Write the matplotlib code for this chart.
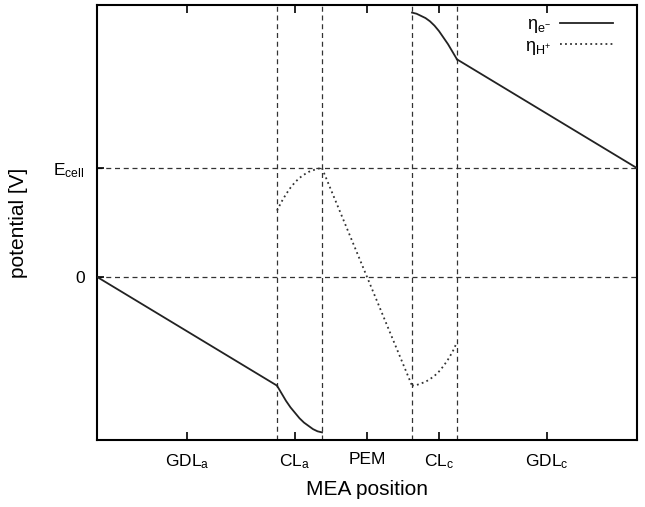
import matplotlib
matplotlib.use("Agg")
import matplotlib.pyplot as plt
from matplotlib.lines import Line2D

plt.rcParams['font.family'] = ['Liberation Sans', 'DejaVu Sans']
plt.rcParams['mathtext.fontset'] = 'custom'
plt.rcParams['mathtext.rm'] = 'Liberation Sans'
plt.rcParams['mathtext.it'] = 'Liberation Sans:italic'

# ---- data ----
E_CELL = 1.0
boundaries = [4, 5, 7, 8]
region_ticks = [2, 4.4, 6, 7.6, 10]
region_labels = [r'$\mathregular{GDL_a}$', r'$\mathregular{CL_a}$', 'PEM',
                 r'$\mathregular{CL_c}$', r'$\mathregular{GDL_c}$']
y_ticks = [0, E_CELL]
y_labels = ['0', r'$\mathregular{E_{cell}}$']

# electron potential
e_gdla_x = [0, 4]
e_gdla_y = [0.0, -1.0]
e_cla_x = [4.0, 4.1, 4.2, 4.3, 4.4, 4.5, 4.6, 4.7, 4.8, 4.9, 5.0]
e_cla_y = [-1.0, -1.07, -1.14, -1.20, -1.25, -1.30, -1.34, -1.37, -1.40, -1.42, -1.43]
e_clc_x = [7.0, 7.1, 7.2, 7.3, 7.4, 7.5, 7.6, 7.7, 7.8, 7.9, 8.0]
e_clc_y = [2.43, 2.42, 2.40, 2.38, 2.35, 2.31, 2.26, 2.20, 2.14, 2.07, 2.0]
e_gdlc_x = [8, 12]
e_gdlc_y = [2.0, 1.0]

# proton potential
h_cla_x = [4.0, 4.1, 4.2, 4.3, 4.4, 4.5, 4.6, 4.7, 4.8, 4.9, 5.0]
h_cla_y = [0.61, 0.69, 0.76, 0.82, 0.87, 0.91, 0.94, 0.965, 0.98, 0.995, 1.0]
h_pem_x = [5, 7]
h_pem_y = [1.0, -1.0]
h_clc_x = [7.0, 7.1, 7.2, 7.3, 7.4, 7.5, 7.6, 7.7, 7.8, 7.9, 8.0]
h_clc_y = [-1.0, -0.995, -0.98, -0.965, -0.94, -0.91, -0.87, -0.82, -0.76, -0.69, -0.6]

fig = plt.figure(figsize=(6.45, 5.07), dpi=100)
ax = fig.add_axes([97/645, 67/507, 540/645, 435/507])

dash_kw = dict(color='#333333', lw=0.9, ls=(0, (4, 3)), zorder=1)
for b in boundaries:
    ax.axvline(b, **dash_kw)
for yv in y_ticks:
    ax.axhline(yv, **dash_kw)

ekw = dict(color='#222222', lw=1.3, zorder=3)
hkw = dict(color='#333333', lw=1.3, ls=(0, (1, 1.8)), zorder=3)
ax.plot(e_gdla_x, e_gdla_y, **ekw)
ax.plot(e_cla_x, e_cla_y, **ekw)
ax.plot(e_clc_x, e_clc_y, **ekw)
ax.plot(e_gdlc_x, e_gdlc_y, **ekw)
ax.plot(h_cla_x, h_cla_y, **hkw)
ax.plot(h_pem_x, h_pem_y, **hkw)
ax.plot(h_clc_x, h_clc_y, **hkw)

ax.set_xlim(0, 12)
ax.set_ylim(-1.5, 2.5)
ax.set_xticks(region_ticks)
ax.set_xticklabels(region_labels, fontsize=12.5)
ax.set_yticks(y_ticks)
ax.set_yticklabels(y_labels, fontsize=12.5)
ax.tick_params(axis='x', direction='in', top=True, length=6, width=1.2, pad=9)
ax.tick_params(axis='y', direction='in', length=5, width=1.2, pad=9)
for s in ax.spines.values():
    s.set_linewidth(1.5)

ax.set_xlabel('MEA position', fontsize=15, labelpad=6)
ax.set_ylabel('potential [V]', fontsize=15, labelpad=18)

handles = [Line2D([], [], **ekw), Line2D([], [], **hkw)]
ax.legend(handles, [r'$\mathregular{\eta_{e^{-}}}$', r'$\mathregular{\eta_{H^{+}}}$'],
          loc='upper right', frameon=False, markerfirst=False, fontsize=13,
          handlelength=2.9, handletextpad=0.5, borderaxespad=0.2,
          labelspacing=0.15, bbox_to_anchor=(0.975, 1.0))

fig.savefig('out.png', dpi=100)
